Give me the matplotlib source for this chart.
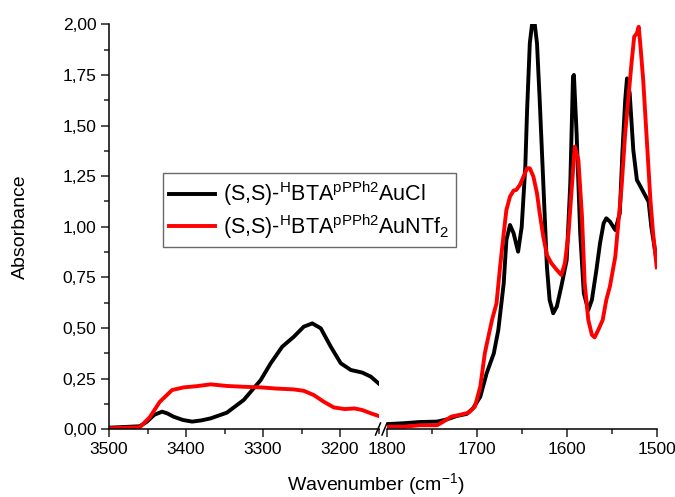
import matplotlib
matplotlib.use("Agg")
import matplotlib.pyplot as plt
from matplotlib.lines import Line2D
from matplotlib.ticker import MultipleLocator

plt.rcParams['font.family'] = ['Liberation Sans', 'DejaVu Sans']
plt.rcParams['mathtext.fontset'] = 'custom'
plt.rcParams['mathtext.rm'] = 'Liberation Sans'
plt.rcParams['mathtext.it'] = 'Liberation Sans:italic'

# ---- data (left segment: 3500-3150 cm-1) ----
wn_left_black = [3500, 3460, 3451, 3441, 3431, 3424, 3416, 3404, 3392, 3380, 3368, 3347, 3325, 3303, 3290,
                 3275, 3260, 3247, 3236, 3225, 3212, 3199, 3186, 3171, 3160, 3150]
abs_left_black = [0.008, 0.015, 0.037, 0.072, 0.087, 0.078, 0.062, 0.046, 0.038, 0.044, 0.054, 0.082, 0.145, 0.243, 0.326,
                  0.408, 0.457, 0.507, 0.523, 0.499, 0.408, 0.326, 0.293, 0.280, 0.260, 0.227]
wn_left_red = [3500, 3460, 3447, 3434, 3418, 3403, 3386, 3368, 3347, 3325, 3303, 3282, 3260, 3247, 3234,
               3221, 3208, 3194, 3181, 3171, 3160, 3150]
abs_left_red = [0.005, 0.010, 0.060, 0.136, 0.194, 0.207, 0.213, 0.222, 0.214, 0.210, 0.207, 0.201, 0.197, 0.190, 0.169,
                0.136, 0.108, 0.100, 0.103, 0.095, 0.079, 0.066]

# ---- data (right segment: 1800-1500 cm-1) ----
wn_right_black = [1798, 1781, 1763, 1744, 1733, 1722, 1711, 1704, 1696, 1689, 1681, 1676, 1670, 1667, 1663,
                  1659, 1654, 1650, 1646, 1644, 1641, 1638, 1636, 1633, 1630, 1626, 1622, 1619, 1615, 1611,
                  1606, 1600, 1596, 1593, 1592, 1589, 1585, 1581, 1576, 1572, 1567, 1563, 1559, 1556, 1552,
                  1546, 1541, 1538, 1535, 1533, 1530, 1526, 1522, 1519, 1514, 1509, 1506, 1500]
abs_right_black = [0.026, 0.030, 0.036, 0.038, 0.049, 0.066, 0.076, 0.104, 0.161, 0.276, 0.375, 0.490, 0.720, 0.935, 1.009,
                   0.968, 0.877, 1.000, 1.297, 1.577, 1.906, 2.02, 2.02, 1.906, 1.626, 1.215, 0.803, 0.639, 0.573, 0.606,
                   0.705, 0.836, 1.215, 1.742, 1.750, 1.462, 0.968, 0.672, 0.589, 0.639, 0.787, 0.918, 1.017, 1.042, 1.026,
                   0.984, 1.067, 1.379, 1.626, 1.733, 1.659, 1.379, 1.231, 1.207, 1.165, 1.124, 1.000, 0.830]
wn_right_red = [1798, 1781, 1763, 1744, 1737, 1728, 1719, 1709, 1702, 1696, 1691, 1687, 1683, 1678, 1674,
                1670, 1667, 1663, 1659, 1656, 1652, 1648, 1644, 1641, 1637, 1633, 1630, 1626, 1622, 1617,
                1611, 1606, 1602, 1598, 1594, 1591, 1587, 1583, 1580, 1576, 1572, 1569, 1565, 1560, 1556,
                1552, 1546, 1543, 1539, 1535, 1531, 1528, 1525, 1522, 1520, 1518, 1515, 1511, 1507, 1504, 1500]
abs_right_red = [0.013, 0.013, 0.020, 0.020, 0.038, 0.063, 0.071, 0.082, 0.112, 0.211, 0.375, 0.458, 0.540, 0.622, 0.803,
                 0.968, 1.083, 1.149, 1.179, 1.182, 1.207, 1.248, 1.289, 1.289, 1.248, 1.165, 1.067, 0.951, 0.861, 0.820,
                 0.787, 0.762, 0.820, 0.968, 1.215, 1.396, 1.330, 1.050, 0.721, 0.540, 0.466, 0.454, 0.490, 0.540, 0.639,
                 0.705, 0.853, 1.000, 1.198, 1.462, 1.659, 1.807, 1.939, 1.956, 1.988, 1.890, 1.725, 1.429, 1.133, 0.968, 0.800]

label_black = r'(S,S)-$^{\mathrm{H}}$BTA$^{\mathrm{pPPh2}}$AuCl'
label_red = r'(S,S)-$^{\mathrm{H}}$BTA$^{\mathrm{pPPh2}}$AuNTf$_{\mathrm{2}}$'

y_ticks = [0.0, 0.25, 0.5, 0.75, 1.0, 1.25, 1.5, 1.75, 2.0]
y_tick_labels = ['0,00', '0,25', '0,50', '0,75', '1,00', '1,25', '1,50', '1,75', '2,00']
x_ticks_left = [3500, 3400, 3300, 3200]
x_ticks_right = [1800, 1700, 1600, 1500]

W, H = 675, 497
fig = plt.figure(figsize=(W / 100, H / 100), dpi=100)

y0 = 1 - 429.3 / H
hgt = (429.3 - 24.3) / H
axL = fig.add_axes([109 / W, y0, (378.5 - 109) / W, hgt])
axR = fig.add_axes([386.7 / W, y0, (656.7 - 386.7) / W, hgt])

lw = 2.8
axL.plot(wn_left_black, abs_left_black, color='black', lw=lw, solid_joinstyle='round')
axL.plot(wn_left_red, abs_left_red, color='#ff0000', lw=lw, solid_joinstyle='round')
axR.plot(wn_right_black, abs_right_black, color='black', lw=lw, solid_joinstyle='round')
axR.plot(wn_right_red, abs_right_red, color='#ff0000', lw=lw, solid_joinstyle='round')

axL.set_xlim(3500, 3150)
axR.set_xlim(1800, 1500)
for ax in (axL, axR):
    ax.set_ylim(0, 2.0)
    ax.spines['top'].set_visible(False)
    ax.spines['right'].set_visible(False)
    ax.spines['bottom'].set_linewidth(1.1)
    ax.spines['left'].set_linewidth(1.1)
    ax.patch.set_alpha(0)
    ax.tick_params(axis='both', which='major', direction='out', length=6, width=1.1, labelsize=12.5, pad=3, colors='#222222', labelcolor='black')
    ax.tick_params(axis='both', which='minor', direction='out', length=3.5, width=1.1, colors='#222222')
    ax.xaxis.set_minor_locator(MultipleLocator(50))

axL.set_xticks(x_ticks_left)
axL.set_xticklabels([str(v) for v in x_ticks_left])
axR.set_xticks(x_ticks_right)
axR.set_xticklabels([str(v) for v in x_ticks_right])
axL.set_yticks(y_ticks)
axL.set_yticklabels(y_tick_labels)
axL.yaxis.set_minor_locator(MultipleLocator(0.125))
axR.spines['left'].set_visible(False)
axR.tick_params(axis='y', which='both', left=False, labelleft=False)

# break marks
def fig_line(x1, y1, x2, y2):
    fig.add_artist(Line2D([x1 / W, x2 / W], [1 - y1 / H, 1 - y2 / H], color='black', lw=1.1,
                          transform=fig.transFigure))
fig_line(375.5, 435, 380.5, 423)
fig_line(382, 435, 387, 423)

fig.text(376 / W, 1 - 484 / H, r'Wavenumber (cm$^{\mathrm{-1}}$)', ha='center', va='center', fontsize=14)
fig.text(20 / W, 1 - 226.5 / H, 'Absorbance', ha='center', va='center', rotation=90, fontsize=14)

handles = [Line2D([], [], color='black', lw=lw), Line2D([], [], color='#ff0000', lw=lw)]
leg = fig.legend(handles, [label_black, label_red], loc='upper left',
                 bbox_to_anchor=(163 / W, 1 - 173 / H), bbox_transform=fig.transFigure,
                 fontsize=15.5, frameon=True, fancybox=False, borderaxespad=0,
                 handlelength=2.1, handletextpad=0.4, borderpad=0.3, labelspacing=0.2)
leg.get_frame().set_edgecolor('#444444')
leg.get_frame().set_linewidth(1.0)

fig.savefig('out.png', dpi=100)
